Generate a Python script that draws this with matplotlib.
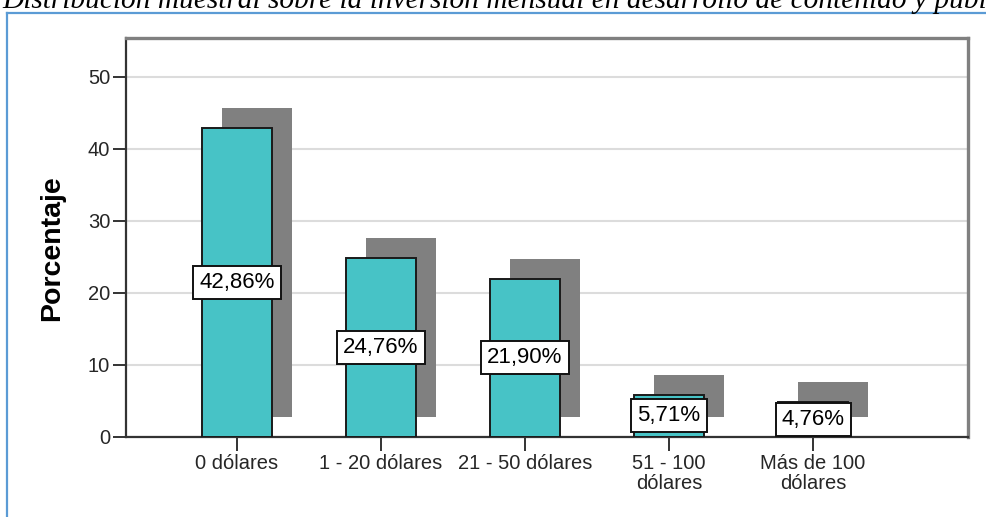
import matplotlib
matplotlib.use("Agg")
import matplotlib.pyplot as plt
from matplotlib.transforms import ScaledTranslation
from matplotlib.lines import Line2D

# Inversión mensual en desarrollo de contenido y publicidad
categorias = ["0 dólares", "1 - 20 dólares", "21 - 50 dólares",
              "51 - 100\ndólares", "Más de 100\ndólares"]
porcentajes = [42.86, 24.76, 21.90, 5.71, 4.76]
etiquetas = ["42,86%", "24,76%", "21,90%", "5,71%", "4,76%"]
y_ticks = [0, 10, 20, 30, 40, 50]
titulo = ("Distribución muestral sobre la inversión mensual en desarrollo "
          "de contenido y publicidad")

W, H, DPI = 987, 517, 100
plt.rcParams["font.family"] = ["Liberation Sans", "DejaVu Sans"]

fig = plt.figure(figsize=(W / DPI, H / DPI), dpi=DPI)
fig.patch.set_facecolor("white")

# caption above the frame (only its lower part fits on the page)
fig.text(2 / W, 1 - 7.5 / H, titulo, family=["Liberation Serif", "DejaVu Serif"],
         style="italic", fontsize=21.2, color="black", ha="left", va="baseline")

# light blue frame around the chart
azul = "#5B9BD5"
fig.add_artist(Line2D([7 / W, 1.0], [1 - 12.5 / H, 1 - 12.5 / H],
                      transform=fig.transFigure, color=azul, lw=1.6))
fig.add_artist(Line2D([7 / W, 7 / W], [0.0, 1 - 12.5 / H],
                      transform=fig.transFigure, color=azul, lw=1.6))

left, right = 126 / W, 968 / W
bottom, top = 1 - 436.5 / H, 1 - 37.5 / H
ax = fig.add_axes([left, bottom, right - left, top - bottom])

x = list(range(len(categorias)))
ancho = 0.49

# drop shadow: same bars shifted up and to the right
sombra = ax.transData + ScaledTranslation(0.2, 0.2, fig.dpi_scale_trans)
ax.bar(x, porcentajes, width=ancho, color="#808080", edgecolor="none",
       transform=sombra, zorder=2)

ax.bar(x, porcentajes, width=ancho, color="#47C3C6", edgecolor="#1a1a1a",
       linewidth=1.4, zorder=3)

for xi, v, t in zip(x, porcentajes, etiquetas):
    ax.text(xi, v / 2, t, ha="center", va="center", fontsize=16, color="black",
            zorder=5,
            bbox=dict(boxstyle="square,pad=0.27", facecolor="white",
                      edgecolor="#111111", linewidth=1.4))

ax.set_xlim(-0.771, 5.076)
ax.set_ylim(0, 55.45)
ax.set_yticks(y_ticks)
ax.set_xticks(x)
ax.set_xticklabels(categorias, linespacing=1.02)

ax.yaxis.grid(True, color="#DCDCDC", linewidth=1.5, zorder=0)
ax.set_axisbelow(True)

ax.tick_params(axis="y", length=9.4, width=1.4, color="#333333", pad=2,
               labelsize=14.5, labelcolor="#262626")
ax.tick_params(axis="x", length=9.8, width=1.4, color="#333333", pad=3,
               labelsize=14.5, labelcolor="#262626")

for lado in ("left", "bottom"):
    ax.spines[lado].set_color("#333333")
    ax.spines[lado].set_linewidth(1.6)
for lado in ("top", "right"):
    ax.spines[lado].set_color("#808080")
    ax.spines[lado].set_linewidth(2.4)

fig.text(52 / W, 1 - 248 / H, "Porcentaje", rotation=90, fontsize=20.5,
         fontweight="bold", ha="center", va="center", color="black")

fig.savefig("out.png", dpi=DPI, facecolor="white")
